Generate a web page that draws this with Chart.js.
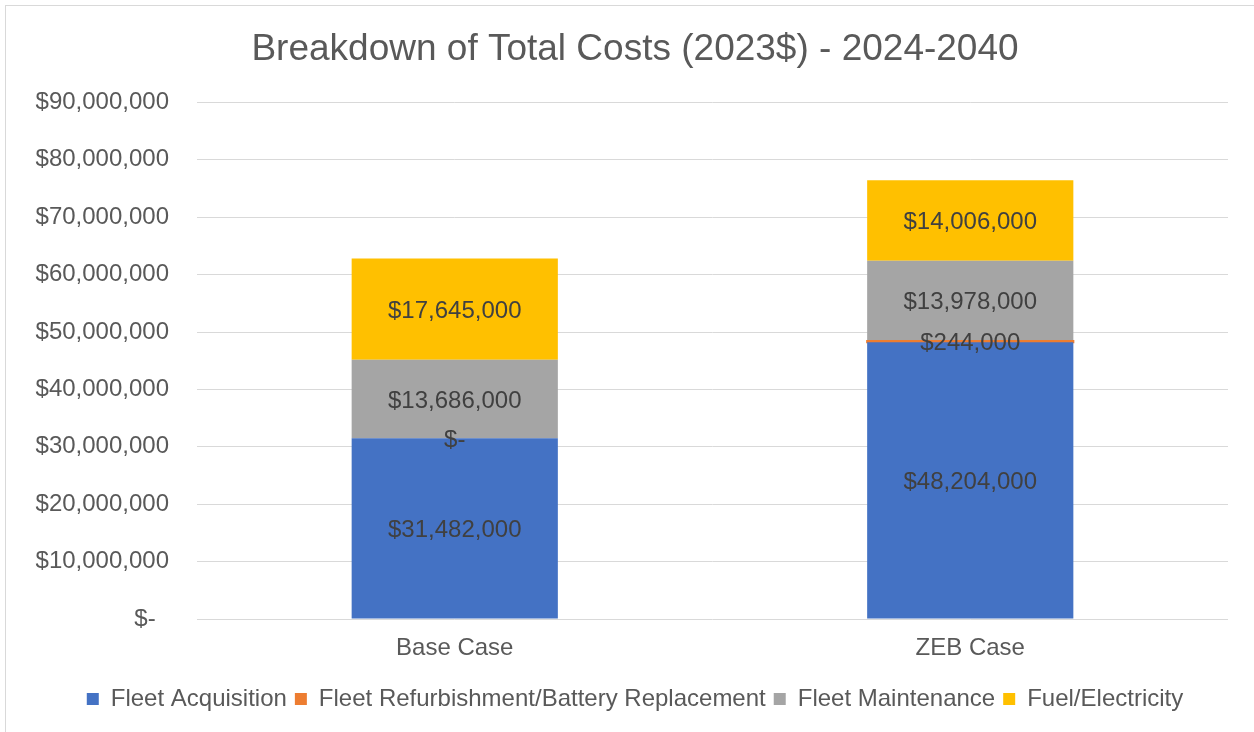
<!DOCTYPE html>
<html>
<head>
<meta charset="utf-8">
<script src="https://cdn.jsdelivr.net/npm/chart.js@4.4.1/dist/chart.umd.min.js"></script>
<style>
  html, body { margin: 0; padding: 0; background: #fff; }
  #wrap { position: relative; width: 1254px; height: 732px; }
</style>
</head>
<body>
<div id="wrap"><canvas id="costChart" width="1254" height="732"></canvas></div>
<script>
const categories = ['Base Case', 'ZEB Case'];
const fleetAcquisition = [31482000, 48204000];
const fleetRefurbishment = [0, 244000];
const fleetMaintenance = [13686000, 13978000];
const fuelElectricity = [17645000, 14006000];
const yTicks = [0, 10000000, 20000000, 30000000, 40000000, 50000000, 60000000, 70000000, 80000000, 90000000];

const FONT = '"Liberation Sans", Arial, sans-serif';

function money(v) {
    if (v === 0) return '$-';
    return '$' + v.toLocaleString('en-US');
}

// outer frame like the Excel chart border
const framePlugin = {
    id: 'frame',
    beforeDraw(chart) {
        const ctx = chart.ctx;
        ctx.save();
        ctx.fillStyle = '#ffffff';
        ctx.fillRect(0, 0, chart.width, chart.height);
        ctx.strokeStyle = '#d9d9d9';
        ctx.lineWidth = 1;
        ctx.strokeRect(5.5, 5.5, chart.width + 20, chart.height + 20);
        ctx.restore();
    }
};

// value labels in the middle of each segment
const segmentLabels = {
    id: 'segmentLabels',
    afterDatasetsDraw(chart) {
        const ctx = chart.ctx;
        ctx.save();
        ctx.font = '24px ' + FONT;
        ctx.fillStyle = '#404040';
        ctx.textAlign = 'center';
        ctx.textBaseline = 'middle';
        chart.data.datasets.forEach((ds, i) => {
            const meta = chart.getDatasetMeta(i);
            meta.data.forEach((bar, j) => {
                const y = (bar.y + bar.base) / 2;
                ctx.fillText(money(ds.data[j]), bar.x, y + 2);
            });
        });
        ctx.restore();
    }
};

const ctx = document.getElementById('costChart').getContext('2d');

const costChart = new Chart(ctx, {
    type: 'bar',
    data: {
        labels: categories,
        datasets: [{
            label: 'Fleet Acquisition',
            data: fleetAcquisition,
            backgroundColor: '#4472C4'
        }, {
            label: 'Fleet Refurbishment/Battery Replacement',
            data: fleetRefurbishment,
            backgroundColor: '#ED7D31',
            // the sliver is thinner than a pixel; widen it a little so it shows
            inflateAmount: c => (c.raw > 0 ? 1 : 0)
        }, {
            label: 'Fleet Maintenance',
            data: fleetMaintenance,
            backgroundColor: '#A5A5A5'
        }, {
            label: 'Fuel/Electricity',
            data: fuelElectricity,
            backgroundColor: '#FFC000'
        }]
    },
    options: {
        responsive: false,
        animation: false,
        barPercentage: 0.8,
        categoryPercentage: 0.5,
        layout: {
            padding: { left: 26, right: 10, top: 0, bottom: 11 }
        },
        plugins: {
            title: {
                display: true,
                text: 'Breakdown of Total Costs (2023$) - 2024-2040',
                color: '#595959',
                font: { size: 37, weight: 'normal', family: FONT },
                padding: { top: 28, bottom: 30 }
            },
            legend: {
                position: 'bottom',
                labels: {
                    color: '#595959',
                    font: { size: 24, family: FONT },
                    boxWidth: 12,
                    boxHeight: 12,
                    padding: 8
                }
            },
            tooltip: { enabled: false }
        },
        scales: {
            x: {
                stacked: true,
                grid: { display: false, drawTicks: false },
                border: { display: false },
                afterFit(scale) {
                    scale.height = 60;
                },
                ticks: {
                    color: '#595959',
                    font: { size: 24, family: FONT },
                    padding: 15
                }
            },
            y: {
                stacked: true,
                min: 0,
                max: 90000000,
                afterBuildTicks(scale) {
                    scale.ticks = yTicks.map(v => ({ value: v }));
                },
                afterFit(scale) {
                    scale.width = 171;
                },
                grid: { color: '#d9d9d9', lineWidth: 1, drawTicks: false },
                border: { display: false },
                ticks: {
                    color: '#595959',
                    font: { size: 24, family: FONT },
                    padding: 28,
                    callback: v => v === 0 ? '$-  ' : money(v)
                }
            },
            // empty right-hand spacer so the plot ends where the original does
            spacer: {
                type: 'linear',
                position: 'right',
                grid: { display: false, drawTicks: false },
                border: { display: false },
                ticks: { display: false },
                afterFit(scale) {
                    scale.width = 16;
                }
            }
        }
    },
    plugins: [framePlugin, segmentLabels]
});
</script>
</body>
</html>
